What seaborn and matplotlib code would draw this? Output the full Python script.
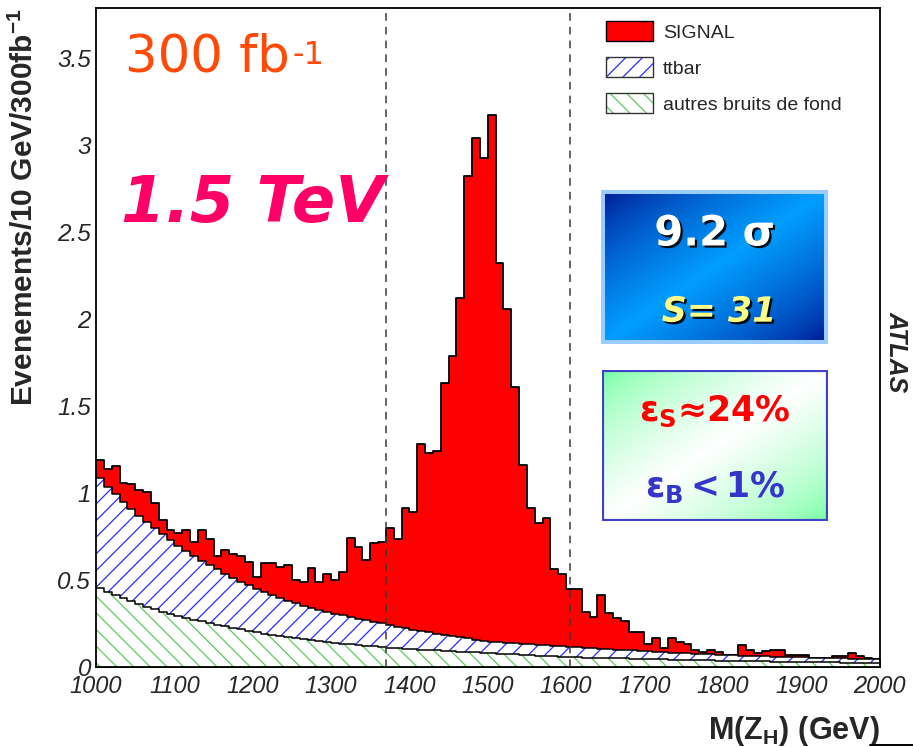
import numpy as np
import pandas as pd
import matplotlib
matplotlib.use("Agg")
import matplotlib.pyplot as plt
import matplotlib.patheffects as pe
import seaborn as sns
from matplotlib.patches import Patch, Rectangle
from matplotlib.legend_handler import HandlerTuple
from matplotlib.lines import Line2D
from matplotlib.ticker import MultipleLocator, FuncFormatter

# ---- binning: 10 GeV bins between 1000 and 2000 GeV ----
mass_lo, mass_hi, bin_width = 1000, 2000, 10

# events / 10 GeV / 300 fb^-1, one value per bin
other_bkg = [
    0.452, 0.433, 0.414, 0.396, 0.378, 0.360, 0.345, 0.331, 0.318, 0.306,
    0.295, 0.284, 0.272, 0.262, 0.252, 0.242, 0.233, 0.224, 0.216, 0.208,
    0.200, 0.192, 0.185, 0.178, 0.171, 0.165, 0.160, 0.155, 0.150, 0.145,
    0.140, 0.135, 0.130, 0.126, 0.122, 0.118, 0.114, 0.110, 0.107, 0.105,
    0.102, 0.100, 0.097, 0.095, 0.093, 0.091, 0.089, 0.086, 0.084, 0.082,
    0.080, 0.077, 0.075, 0.072, 0.070, 0.067, 0.065, 0.063, 0.061, 0.058,
    0.056, 0.055, 0.054, 0.053, 0.052, 0.051, 0.050, 0.049, 0.048, 0.047,
    0.046, 0.045, 0.044, 0.043, 0.042, 0.041, 0.040, 0.039, 0.038, 0.037,
    0.036, 0.035, 0.034, 0.034, 0.033, 0.032, 0.031, 0.031, 0.030, 0.029,
    0.028, 0.028, 0.027, 0.026, 0.026, 0.025, 0.024, 0.023, 0.022, 0.021,
]
ttbar = [
    0.632, 0.604, 0.579, 0.554, 0.531, 0.510, 0.488, 0.466, 0.445, 0.424,
    0.403, 0.384, 0.368, 0.350, 0.334, 0.319, 0.304, 0.290, 0.275, 0.262,
    0.250, 0.239, 0.227, 0.217, 0.207, 0.200, 0.193, 0.186, 0.179, 0.173,
    0.167, 0.162, 0.157, 0.151, 0.146, 0.140, 0.136, 0.131, 0.125, 0.118,
    0.113, 0.107, 0.102, 0.096, 0.091, 0.086, 0.081, 0.078, 0.074, 0.070,
    0.066, 0.065, 0.065, 0.064, 0.064, 0.063, 0.063, 0.062, 0.061, 0.061,
    0.060, 0.059, 0.057, 0.055, 0.053, 0.052, 0.050, 0.048, 0.047, 0.045,
    0.044, 0.042, 0.041, 0.040, 0.038, 0.037, 0.036, 0.035, 0.034, 0.033,
    0.032, 0.032, 0.031, 0.030, 0.030, 0.029, 0.029, 0.028, 0.028, 0.027,
    0.027, 0.026, 0.026, 0.026, 0.025, 0.025, 0.024, 0.024, 0.024, 0.023,
]
signal = [
    0.106, 0.103, 0.162, 0.110, 0.141, 0.145, 0.172, 0.143, 0.082, 0.060,
    0.072, 0.122, 0.080, 0.178, 0.149, 0.074, 0.133, 0.136, 0.149, 0.135,
    0.070, 0.169, 0.188, 0.180, 0.207, 0.135, 0.137, 0.229, 0.161, 0.217,
    0.193, 0.248, 0.453, 0.413, 0.347, 0.452, 0.470, 0.559, 0.503, 0.692,
    0.675, 1.073, 1.031, 1.049, 1.446, 1.613, 1.950, 2.656, 2.882, 2.773,
    3.024, 2.177, 1.920, 1.473, 1.026, 0.784, 0.702, 0.731, 0.442, 0.416,
    0.333, 0.336, 0.203, 0.181, 0.309, 0.209, 0.183, 0.169, 0.108, 0.111,
    0.042, 0.078, 0.026, 0.082, 0.066, 0.054, 0.024, 0.014, 0.028, 0.016,
    0.000, 0.000, 0.061, 0.034, 0.019, 0.029, 0.040, 0.041, 0.012, 0.014,
    0.013, 0.000, 0.000, 0.000, 0.012, 0.013, 0.034, 0.016, 0.004, 0.000,
]

# mass window used for the selection
window_edges = [1370, 1605]

legend_labels = ["SIGNAL", "ttbar", "autres bruits de fond"]
x_ticks = [1000, 1100, 1200, 1300, 1400, 1500, 1600, 1700, 1800, 1900, 2000]
y_ticks = [0, 0.5, 1, 1.5, 2, 2.5, 3, 3.5]

# ---- style ----
sns.set_style("white")
plt.rcParams["font.family"] = ["Liberation Sans", "DejaVu Sans"]
plt.rcParams["mathtext.fontset"] = "custom"
plt.rcParams["mathtext.rm"] = "Liberation Sans:bold"
plt.rcParams["mathtext.it"] = "Liberation Sans:bold:italic"
plt.rcParams["mathtext.bf"] = "DejaVu Sans:bold"
plt.rcParams["hatch.linewidth"] = 0.9

W, H = 913, 747


def fig_xy(x, y):
    """pixel position (from top-left) -> figure fraction"""
    return x / W, 1 - y / H


def fig_rect(x0, y0, x1, y1):
    return [x0 / W, 1 - y1 / H, (x1 - x0) / W, (y1 - y0) / H]


edges = [float(e) for e in np.arange(mass_lo, mass_hi + bin_width, bin_width)]
centers = np.asarray(edges[:-1]) + bin_width / 2
df = pd.DataFrame({"mass": centers, "other": other_bkg,
                   "ttbar": ttbar, "signal": signal})
df["bkg"] = df["other"] + df["ttbar"]
df["total"] = df["bkg"] + df["signal"]

fig = plt.figure(figsize=(W / 100, H / 100), dpi=100)
ax = fig.add_axes(fig_rect(96, 8, 879.5, 667))

red = "#ff0000"
blue_hatch = "#2b2bff"
green_hatch = "#5ccc5c"

# stacked histograms, drawn from the top of the stack downwards
sns.histplot(data=df, x="mass", weights="total", bins=edges, element="step",
             fill=True, facecolor=red, edgecolor="black", linewidth=1.3,
             alpha=1, ax=ax)
sns.histplot(data=df, x="mass", weights="bkg", bins=edges, element="step",
             fill=True, facecolor="white", edgecolor=blue_hatch, hatch="//",
             linewidth=0, alpha=1, ax=ax)
sns.histplot(data=df, x="mass", weights="bkg", bins=edges, element="step",
             fill=False, color="black", linewidth=1.1, ax=ax)
sns.histplot(data=df, x="mass", weights="other", bins=edges, element="step",
             fill=True, facecolor="white", edgecolor=green_hatch, hatch="\\\\",
             linewidth=0, alpha=1, ax=ax)
sns.histplot(data=df, x="mass", weights="other", bins=edges, element="step",
             fill=False, color="black", linewidth=1.1, ax=ax)

for xv in window_edges:
    ax.axvline(xv, color="#3a3a3a", linestyle=(0, (5, 4)), linewidth=1.1,
               zorder=3)

# ---- axes ----
ax.set_xlim(mass_lo, mass_hi)
ax.set_ylim(0, 3.787)
ax.set_xticks(x_ticks)
ax.set_yticks(y_ticks)
ax.xaxis.set_minor_locator(MultipleLocator(20))
ax.yaxis.set_minor_locator(MultipleLocator(0.1))
fmt = FuncFormatter(lambda v, p: f"{v:g}")
ax.xaxis.set_major_formatter(fmt)
ax.yaxis.set_major_formatter(fmt)
ax.set_axisbelow(False)
ax.tick_params(which="both", direction="in", top=False, right=False,
               color="black", width=1.1)
ax.tick_params(axis="x", which="major", length=14.5, pad=6, labelsize=17)
ax.tick_params(axis="x", which="minor", length=7.2)
ax.tick_params(axis="y", which="major", length=16.5, pad=3.5, labelsize=17.5)
ax.tick_params(axis="y", which="minor", length=8.5)
for t in ax.get_xticklabels() + ax.get_yticklabels():
    t.set_fontstyle("italic")
for s in ax.spines.values():
    s.set_color("black")
    s.set_linewidth(1.3)

ax.set_ylabel(r"Evenements/10 GeV/300fb$^{-1}$", fontsize=21.5,
              fontweight="bold", loc="top")
ax.yaxis.set_label_coords(-0.073, 1.0)
ax.set_xlabel(r"$\mathrm{M(Z_H)\ (GeV)}$", fontsize=22, loc="right")
ax.xaxis.set_label_coords(1.0, -0.072)

# ---- legend ----
handles = [
    Patch(facecolor=red, edgecolor="black", linewidth=1.0),
    (Patch(facecolor="white", edgecolor=blue_hatch, hatch="//", linewidth=0),
     Patch(facecolor="none", edgecolor="#333333", linewidth=1.0)),
    (Patch(facecolor="white", edgecolor=green_hatch, hatch="\\\\", linewidth=0),
     Patch(facecolor="none", edgecolor="#333333", linewidth=1.0)),
]
ax.legend(handles, legend_labels, loc="upper left",
          bbox_to_anchor=fig_xy(606, 21), bbox_transform=fig.transFigure,
          frameon=False, fontsize=14, handlelength=2.42, handleheight=1.24,
          handletextpad=0.5, labelspacing=0.78, borderpad=0, borderaxespad=0,
          handler_map={tuple: HandlerTuple(ndivide=1, pad=0)})

# ---- annotations ----
lumi = fig.text(*fig_xy(125, 72), "300 fb", color="#ff4a0a", fontsize=37,
                family="DejaVu Sans", va="baseline")
ax.annotate("-1", xy=(1.0, 0.86), xycoords=lumi, xytext=(2, 0),
            textcoords="offset points", ha="left", va="top",
            color="#ff4a0a", fontsize=23, family="DejaVu Sans",
            annotation_clip=False)
fig.text(*fig_xy(121, 222), "1.5 TeV", color="#ff0066", fontsize=46,
         family="DejaVu Sans", fontweight="bold", fontstyle="italic",
         va="baseline")
fig.text(*fig_xy(897, 352), "ATLAS", rotation=-90, fontsize=18,
         fontweight="bold", fontstyle="italic", ha="center", va="center")

# blue significance box
gx, gy = np.meshgrid(np.linspace(0, 1, 300), np.linspace(0, 1, 200))
band = 1 - np.abs(gx + gy - 1)            # bright along the anti-diagonal
dark = np.array([0.0, 0.05, 0.55])
light = np.array([0.0, 0.62, 1.0])
blue_img = dark + (light - dark) * (band[..., None] ** 0.7)

bax = fig.add_axes(fig_rect(601, 190, 828, 344))
bax.imshow(blue_img, extent=(0, 1, 0, 1), origin="upper", aspect="auto")
bax.add_patch(Rectangle((0, 0), 1, 1, transform=bax.transAxes, fill=False,
                        edgecolor="#99ccff", linewidth=5.8))
bax.set_axis_off()
shadow = [pe.withSimplePatchShadow(offset=(1.6, -1.6), shadow_rgbFace="black",
                                   alpha=0.9)]
bax.text(0.5, 0.64, "9.2 σ", transform=bax.transAxes, ha="center",
         va="baseline", color="white", fontsize=30, fontweight="bold",
         family="DejaVu Sans", path_effects=shadow)
bax.text(0.52, 0.145, "S= 31", transform=bax.transAxes, ha="center",
         va="baseline", color="#ffff88", fontsize=25, fontweight="bold",
         fontstyle="italic", family="DejaVu Sans", path_effects=shadow)

# green efficiency box
green = np.array([0.40, 1.0, 0.60])
white = np.array([1.0, 1.0, 1.0])
green_img = green + (white - green) * (band[..., None] ** 0.6)
gax = fig.add_axes(fig_rect(602, 370, 828, 521))
gax.imshow(green_img, extent=(0, 1, 0, 1), origin="upper", aspect="auto")
gax.add_patch(Rectangle((0, 0), 1, 1, transform=gax.transAxes, fill=False,
                        edgecolor="#4040cc", linewidth=3.0))
gax.set_axis_off()
gax.text(0.5, 0.66, r"$\mathbf{ε_S{≈}24\%}$", transform=gax.transAxes,
         ha="center", va="baseline", color="#ff0000", fontsize=25)
gax.text(0.5, 0.16, r"$\mathbf{ε_B{<}1\%}$", transform=gax.transAxes,
         ha="center", va="baseline", color="#3535cc", fontsize=25)

fig.add_artist(Line2D([870 / W, 1.0], [1 - 745 / H] * 2, color="black",
                      linewidth=1.4))

fig.savefig("out.png", dpi=100)
